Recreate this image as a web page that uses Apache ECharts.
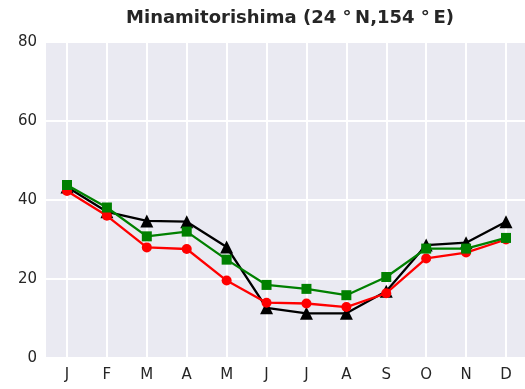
<!DOCTYPE html>
<html>
<head>
<meta charset="utf-8">
<script src="https://cdn.jsdelivr.net/npm/echarts@6/dist/echarts.min.js"></script>
<style>
  html, body { margin: 0; padding: 0; background: #ffffff; }
  #chart { width: 525px; height: 389px; }
</style>
</head>
<body>
<div id="chart"></div>
<script>
// Monthly values at Minamitorishima, three series
const months = ['J', 'F', 'M', 'A', 'M', 'J', 'J', 'A', 'S', 'O', 'N', 'D'];
const blackValues = [43.3, 37.0, 34.7, 34.5, 28.1, 12.7, 11.3, 11.3, 16.9, 28.6, 29.2, 34.5];
const redValues   = [42.3, 36.0, 28.0, 27.6, 19.6, 14.0, 13.8, 12.9, 16.4, 25.2, 26.7, 30.0];
const greenValues = [43.8, 38.1, 30.8, 32.0, 24.9, 18.5, 17.5, 15.9, 20.5, 27.7, 27.7, 30.4];
const yTicks = { min: 0, max: 80, interval: 20 };

const textColor = '#262626';
const font = 'DejaVu Sans';

const chart = echarts.init(document.getElementById('chart'), null, { renderer: 'canvas' });

function lineSeries(name, values, color, symbol, size, z) {
  return {
    name: name,
    type: 'line',
    xAxisIndex: 1,
    yAxisIndex: 1,
    data: values,
    symbol: symbol,
    symbolSize: size,
    showAllSymbol: true,
    lineStyle: { color: color, width: 2.3 },
    itemStyle: { color: color, borderWidth: 0 },
    z: z,
    animation: false
  };
}

chart.setOption({
  backgroundColor: '#ffffff',
  animation: false,
  title: {
    text: 'Minamitorishima (24 \u00b0\u2009N,154 \u00b0\u2009E)',
    left: 285,
    textAlign: 'center',
    top: 4,
    textStyle: { fontFamily: font, fontWeight: 'bold', fontSize: 18, color: textColor }
  },
  grid: [
    // full plot panel: background and horizontal grid lines
    { left: 46, right: 0, top: 42, bottom: 31, show: true, backgroundColor: '#eaeaf2', borderWidth: 0 },
    // month positions
    { left: 67, right: 19, top: 42, bottom: 31, show: false }
  ],
  xAxis: [
    { type: 'value', gridIndex: 0, show: false, min: 0, max: 1 },
    {
      type: 'category', gridIndex: 1, data: months, boundaryGap: false,
      axisLine: { show: false }, axisTick: { show: false },
      axisLabel: { color: textColor, fontFamily: font, fontSize: 15, margin: 10, interval: 0 },
      splitLine: { show: true, interval: 0, lineStyle: { color: '#ffffff', width: 2 } }
    }
  ],
  yAxis: [
    {
      type: 'value', gridIndex: 0, min: yTicks.min, max: yTicks.max, interval: yTicks.interval,
      axisLine: { show: false }, axisTick: { show: false },
      axisLabel: { color: textColor, fontFamily: font, fontSize: 15, margin: 9 },
      splitLine: { show: true, lineStyle: { color: '#ffffff', width: 2 } }
    },
    {
      type: 'value', gridIndex: 1, min: yTicks.min, max: yTicks.max, interval: yTicks.interval,
      show: false, splitLine: { show: false }
    }
  ],
  series: [
    lineSeries('black', blackValues, '#000000', 'triangle', 13, 3),
    lineSeries('red', redValues, '#ff0000', 'circle', 10, 4),
    lineSeries('green', greenValues, '#008000', 'rect', 10, 5)
  ]
});
</script>
</body>
</html>
